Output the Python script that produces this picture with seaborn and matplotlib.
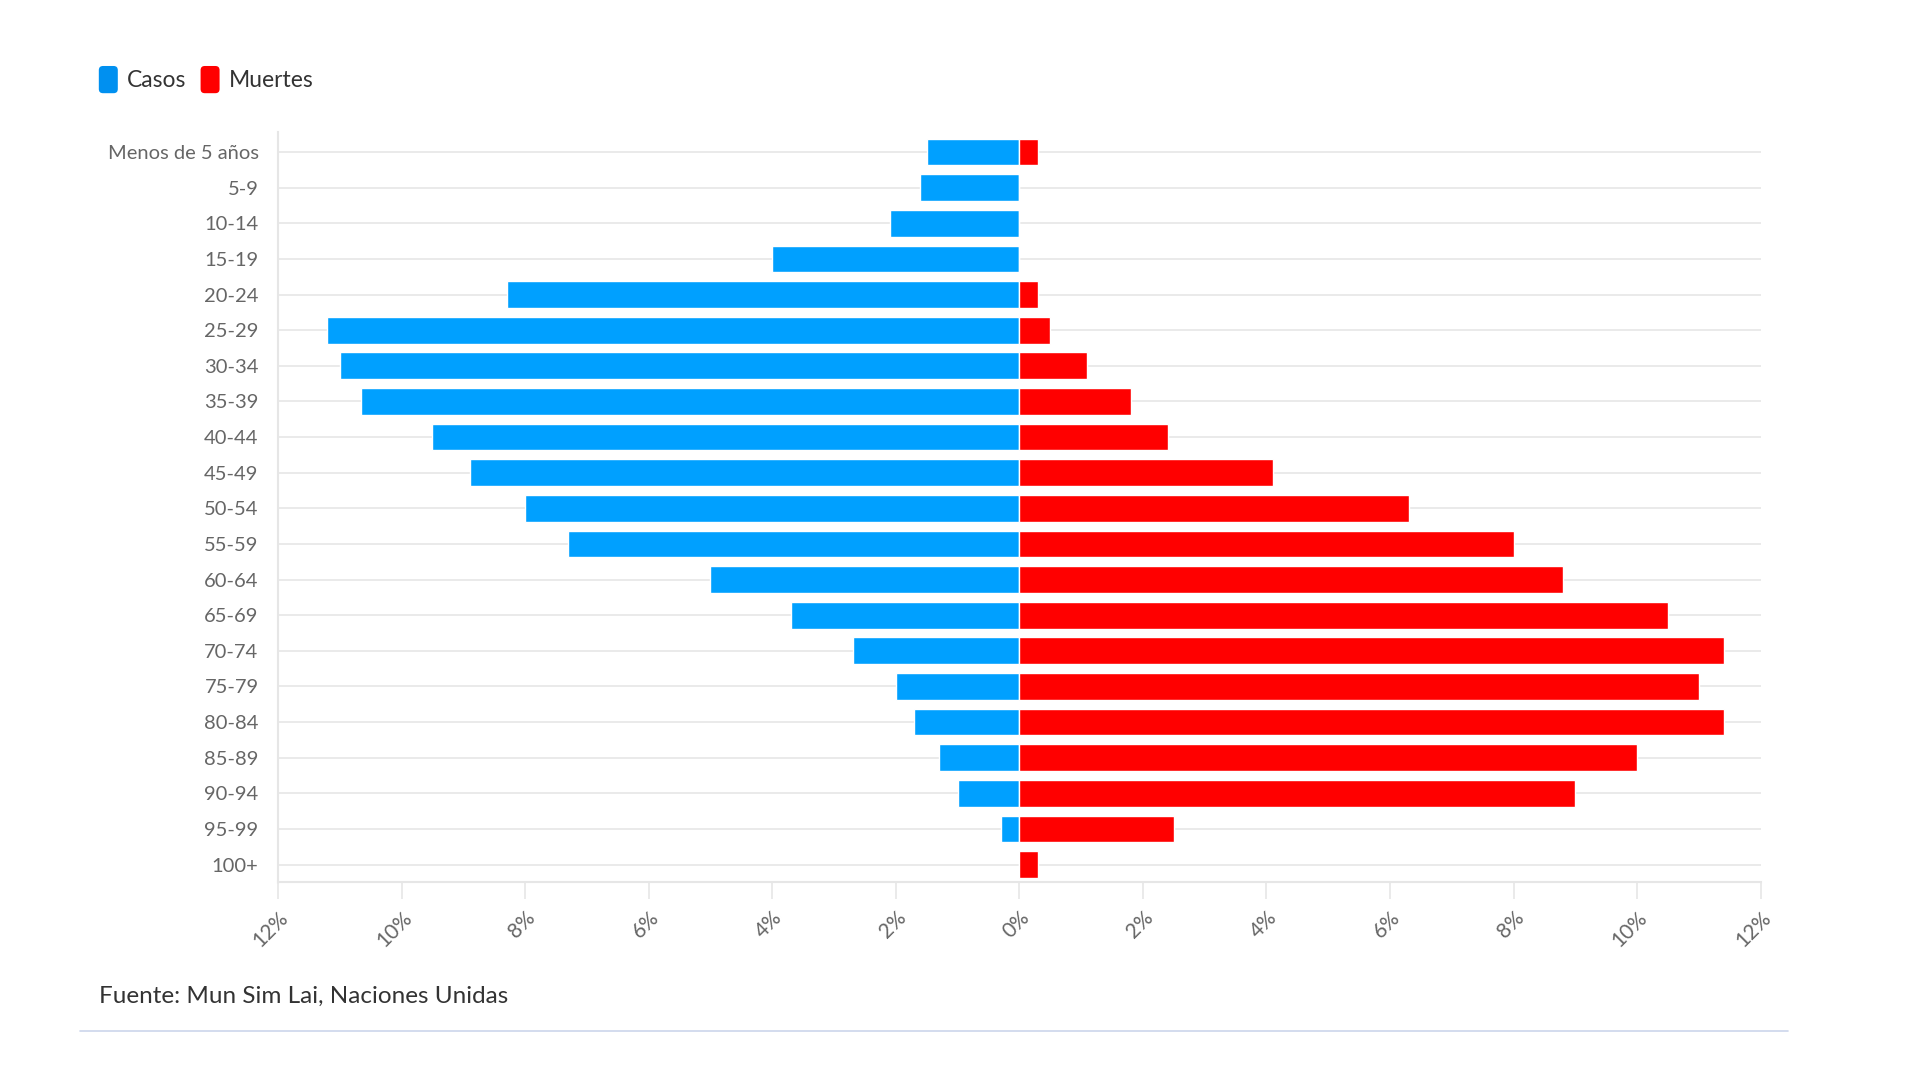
import matplotlib.pyplot as plt
import numpy as np
import pandas as pd
import seaborn as sns
from matplotlib.patches import FancyBboxPatch, Patch
from matplotlib.legend_handler import HandlerPatch
from matplotlib.lines import Line2D

# ==================== data ====================
grupos = ['Menos de 5 años', '5-9', '10-14', '15-19', '20-24', '25-29', '30-34',
          '35-39', '40-44', '45-49', '50-54', '55-59', '60-64', '65-69', '70-74',
          '75-79', '80-84', '85-89', '90-94', '95-99', '100+']
casos = [1.5, 1.6, 2.1, 4.0, 8.3, 11.2, 11.0, 10.65, 9.5, 8.9, 8.0, 7.3, 5.0,
         3.7, 2.7, 2.0, 1.7, 1.3, 1.0, 0.3, 0.0]
muertes = [0.3, 0.0, 0.0, 0.0, 0.3, 0.5, 1.1, 1.8, 2.4, 4.1, 6.3, 8.0, 8.8,
           10.5, 11.4, 11.0, 11.4, 10.0, 9.0, 2.5, 0.3]
ticks = [-12, -10, -8, -6, -4, -2, 0, 2, 4, 6, 8, 10, 12]

df = pd.concat([
    pd.DataFrame({'grupo': grupos, 'valor': -np.array(casos), 'serie': 'Casos'}),
    pd.DataFrame({'grupo': grupos, 'valor': np.array(muertes), 'serie': 'Muertes'}),
])

sns.set_theme(style='white')
plt.rcParams['font.family'] = ['Lato', 'DejaVu Sans']

fig = plt.figure(figsize=(19.2, 10.8), dpi=100)
ax = fig.add_axes([0.1448, 0.183, 0.917 - 0.1448, 0.878 - 0.183])

sns.barplot(data=df, x='valor', y='grupo', hue='serie', order=grupos,
            palette={'Casos': '#00a0ff', 'Muertes': '#ff0000'}, saturation=1,
            dodge=False, width=0.75, orient='h', legend=False,
            edgecolor='white', linewidth=1.0, ax=ax, zorder=3)

ax.set_xlim(-12, 12)
ax.set_ylim(20.5, -0.57)
ax.set_xticks(ticks)
ax.set_xticklabels([f'{abs(t)}%' for t in ticks], rotation=45, ha='right',
                   va='top', rotation_mode='anchor', fontsize=15, color='#666666')
ax.tick_params(axis='x', length=12, width=1.2, color='#e6e6e6', pad=6, bottom=True)
ax.tick_params(axis='y', length=0, pad=14, labelsize=14.5, labelcolor='#666666')
ax.set_xlabel('')
ax.set_ylabel('')

ax.grid(axis='y', color='#e6e6e6', linewidth=1.2, zorder=0)
ax.grid(axis='x', visible=False)
for s in ['top', 'right']:
    ax.spines[s].set_visible(False)
for s in ['left', 'bottom']:
    ax.spines[s].set_color('#e6e6e6')
    ax.spines[s].set_linewidth(1.5)


# ==================== legend ====================
class RoundHandler(HandlerPatch):
    def create_artists(self, legend, orig_handle, xdescent, ydescent,
                       width, height, fontsize, trans):
        p = FancyBboxPatch((-xdescent + 1, -ydescent), width - 2, height,
                           boxstyle='round,pad=0,rounding_size=3',
                           facecolor=orig_handle.get_facecolor(),
                           edgecolor='none', transform=trans)
        return [p]


handles = [Patch(facecolor='#0090f0', label='Casos'),
           Patch(facecolor='#ff0000', label='Muertes')]
fig.legend(handles=handles, loc='upper left', bbox_to_anchor=(0.04, 0.958),
           ncol=2, frameon=False, fontsize=16.5, handlelength=0.95,
           handleheight=1.45, handletextpad=0.35, columnspacing=0.55,
           labelcolor='#333333',
           handler_map={Patch: RoundHandler()})

# ==================== source ====================
fig.text(0.0515, 0.077, 'Fuente: Mun Sim Lai, Naciones Unidas', fontsize=17.5,
         color='#333333', ha='left', va='center')
fig.add_artist(Line2D([0.0417, 0.931], [0.0454, 0.0454], color='#ccd6eb',
                      linewidth=1.2, transform=fig.transFigure))

plt.savefig('out.png', dpi=100)
